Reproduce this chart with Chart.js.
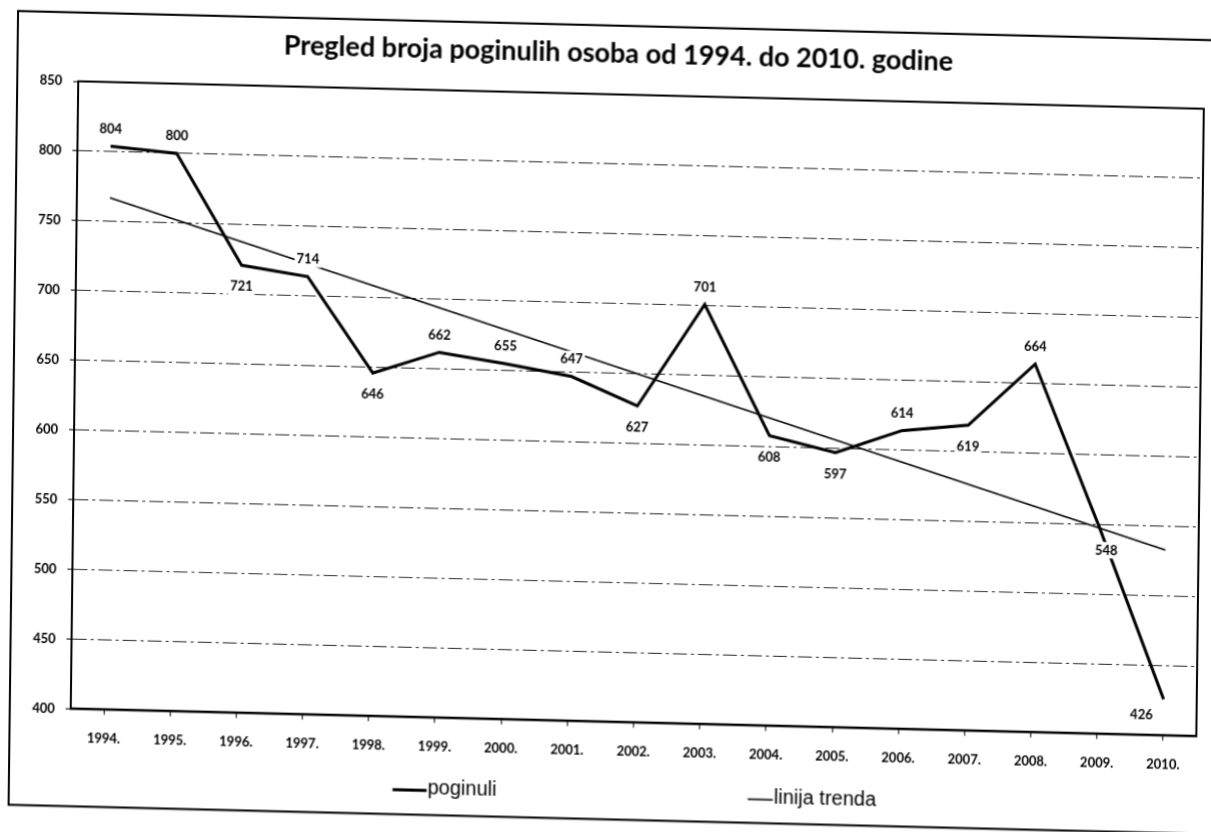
<!DOCTYPE html>
<html>
<head>
<meta charset="utf-8">
<script src="https://cdn.jsdelivr.net/npm/chart.js@4.4.1/dist/chart.umd.min.js"></script>
<style>
  html, body { margin: 0; padding: 0; background: #fff; overflow: hidden; }
  #wrap { position: relative; width: 1211px; height: 832px; transform-origin: 0 0; }
</style>
</head>
<body>
<div id="wrap"><canvas id="c" width="1211" height="832"></canvas></div>
<script>
// ---- data ----
const years = ['1994.', '1995.', '1996.', '1997.', '1998.', '1999.', '2000.', '2001.', '2002.',
               '2003.', '2004.', '2005.', '2006.', '2007.', '2008.', '2009.', '2010.'];
const poginuli = [804, 800, 721, 714, 646, 662, 655, 647, 627, 701, 608, 597, 614, 619, 664, 548, 426];
// trend line end points (straight line between them)
const trend = [767, null, null, null, null, null, null, null, null, null, null, null, null, null, null, null, 533];
const yTicks = [400, 450, 500, 550, 600, 650, 700, 750, 800, 850];
const seriesNames = ['poginuli', 'linija trenda'];
const titleText = 'Pregled broja poginulih osoba od 1994. do 2010. godine';
// label placement for each point of "poginuli": a = above, b = below, br / bl = below right / left
const labelPlace = ['a', 'a', 'b', 'a', 'b', 'a', 'a', 'a', 'b', 'a', 'b', 'b', 'a', 'b', 'a', 'br', 'bl'];

const FONT = 'Lato, "Open Sans", sans-serif';

const framePlugin = {
  id: 'frame',
  beforeDraw(chart) {
    const ctx = chart.ctx;
    const a = chart.chartArea;
    const mx = (a.left + a.right) / 2;
    ctx.save();
    ctx.fillStyle = '#fff';
    ctx.fillRect(0, 0, chart.width, chart.height);
    ctx.strokeStyle = '#000';
    ctx.lineWidth = 2;
    ctx.strokeRect(a.left - 61, a.top - 67, 1260, (a.bottom + 95) - (a.top - 67));
    // title
    ctx.font = 'bold 27px ' + FONT;
    ctx.fillStyle = '#000';
    ctx.textAlign = 'center';
    ctx.textBaseline = 'middle';
    ctx.fillText(titleText, mx - 23, a.top - 40);
    ctx.restore();
  },
  afterDraw(chart) {
    const a = chart.chartArea;
    const mx = (a.left + a.right) / 2;
    const ctx = chart.ctx;
    ctx.save();
    ctx.strokeStyle = '#000';
    ctx.lineWidth = 2;
    ctx.setLineDash([]);
    ctx.strokeRect(a.left, a.top, a.right - a.left, a.bottom - a.top);
    // legend
    const items = [
      { x: mx - 240, y: a.bottom + 71, len: 34, w: 3 },
      { x: mx + 115, y: a.bottom + 72, len: 25, w: 1.6 }
    ];
    ctx.font = '20px "Liberation Sans", Arial, sans-serif';
    ctx.fillStyle = '#000';
    ctx.textBaseline = 'middle';
    ctx.textAlign = 'left';
    chart.data.datasets.forEach((ds, i) => {
      const it = items[i];
      ctx.lineWidth = it.w;
      ctx.beginPath();
      ctx.moveTo(it.x, it.y);
      ctx.lineTo(it.x + it.len, it.y);
      ctx.stroke();
      ctx.fillText(ds.label, it.x + it.len + 1, it.y - 2);
    });
    ctx.restore();
  },
  afterDatasetsDraw(chart) {
    const meta = chart.getDatasetMeta(0);
    const ctx = chart.ctx;
    ctx.save();
    ctx.font = 'bold 13px ' + FONT;
    ctx.textAlign = 'center';
    ctx.textBaseline = 'middle';
    const off = { a: [0, -17], b: [0, 21], br: [7, 22], bl: [-22, 16] };
    meta.data.forEach((pt, i) => {
      const o = off[labelPlace[i]];
      const txt = String(poginuli[i]);
      const w = ctx.measureText(txt).width;
      const x = pt.x + o[0], y = pt.y + o[1];
      ctx.fillStyle = '#fff';
      ctx.fillRect(x - w / 2 - 2, y - 8, w + 4, 16);
      ctx.fillStyle = '#000';
      ctx.fillText(txt, x, y);
    });
    ctx.restore();
  }
};

const chart = new Chart(document.getElementById('c'), {
  type: 'line',
  data: {
    labels: years,
    datasets: [
      { label: seriesNames[0], data: poginuli, borderColor: '#000', borderWidth: 3,
        pointRadius: 0, tension: 0, fill: false },
      { label: seriesNames[1], data: trend, borderColor: '#000', borderWidth: 1.6,
        pointRadius: 0, tension: 0, fill: false, spanGaps: true }
    ]
  },
  options: {
    responsive: false,
    animation: false,
    devicePixelRatio: 1,
    layout: { padding: { left: 0, right: 11, top: 96, bottom: 72 } },
    plugins: {
      legend: { display: false },
      tooltip: { enabled: false },
      title: { display: false }
    },
    scales: {
      x: {
        offset: true,
        grid: { display: true, drawOnChartArea: false, tickLength: 5, color: '#000' },
        border: { display: true, color: '#000', width: 2 },
        ticks: { color: '#000', padding: 16, maxRotation: 0, autoSkip: false,
                 font: { family: FONT, size: 13, weight: 'bold' } }
      },
      y: {
        min: 400, max: 850,
        afterBuildTicks(scale) { scale.ticks = yTicks.map(v => ({ value: v })); },
        afterFit(scale) { scale.width = 75; },
        grid: { color: '#333', lineWidth: 1, tickLength: 5, tickColor: '#000' },
        border: { display: true, color: '#000', width: 2, dash: [14, 4, 3, 4] },
        ticks: { color: '#000', padding: 11,
                 font: { family: FONT, size: 13, weight: 'bold' } }
      }
    }
  },
  plugins: [framePlugin]
});

// The reference is a slightly skewed scan: map the plot frame onto the scanned frame.
(function () {
  const ca = chart.chartArea;
  const w = ca.right - ca.left, h = ca.bottom - ca.top;
  const cx = (ca.left + ca.right) / 2, cy = (ca.top + ca.bottom) / 2;
  const X = [1125.5, 27.5], Y = [-7.5, 627.5], C = [637.25, 408.75];
  const a = X[0] / w, b = X[1] / w, c = Y[0] / h, d = Y[1] / h;
  const e = C[0] - (a * cx + c * cy), f = C[1] - (b * cx + d * cy);
  document.getElementById('wrap').style.transform =
    'matrix(' + [a, b, c, d, e, f].join(',') + ')';
})();
</script>
</body>
</html>
